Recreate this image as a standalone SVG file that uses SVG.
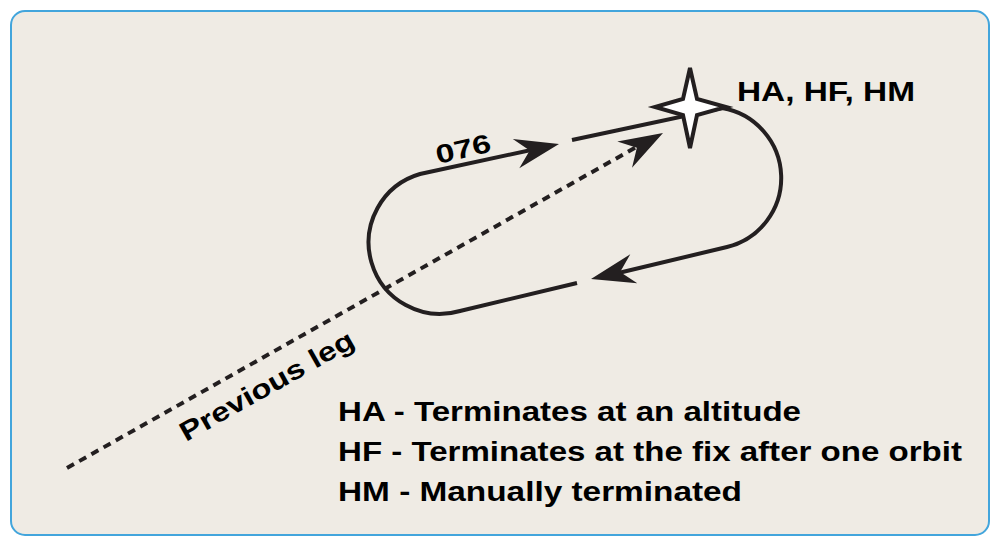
<svg xmlns="http://www.w3.org/2000/svg" width="1000" height="546" viewBox="0 0 1000 546">
<style>
.t{font-family:"Liberation Sans",Arial,sans-serif;font-weight:bold;fill:#000}
.ln{fill:none;stroke:#231f20;stroke-width:4}
.ah{fill:#231f20}
</style>
<defs>
<path id="head" d="M0,0 L-44,-15 L-30,0 L-44,15 Z"/>
</defs>
<rect x="11" y="11" width="978" height="524" rx="14" fill="#efebe4" stroke="#42a5dc" stroke-width="2"/>
<g id="connectors">
<path class="ln" d="M572,140 L722,108 A71,71 0 0 1 727,247 L610,275"/>
<path class="ln" d="M577,283 L460,311 A71,71 0 0 1 420,174 L545,147"/>
<line class="ln" x1="67" y1="468" x2="640" y2="145" stroke-dasharray="8,6"/>
<use href="#head" class="ah" transform="translate(559,144) rotate(-12.5)"/>
<use href="#head" class="ah" transform="translate(663,133) rotate(-29.4)"/>
<use href="#head" class="ah" transform="translate(591,279) rotate(166.5)"/>
</g>
<g id="fix">
<path d="M690,68 L697,99 L726,107 L697,115 L690,148 L683,115 L655,107 L683,99 Z" fill="#fff" stroke="#231f20" stroke-width="4" stroke-linejoin="miter"/>
</g>
<text class="t" x="737" y="101" font-size="28" textLength="178" lengthAdjust="spacingAndGlyphs">HA, HF, HM</text>
<text class="t" font-size="26" textLength="56" lengthAdjust="spacingAndGlyphs" transform="translate(438,164) rotate(-13)">076</text>
<text class="t" font-size="27" textLength="196" lengthAdjust="spacingAndGlyphs" transform="translate(186,442) rotate(-29.5)">Previous leg</text>
<g id="legend" class="t" font-size="28">
<text x="338" y="421" textLength="463" lengthAdjust="spacingAndGlyphs">HA - Terminates at an altitude</text>
<text x="338" y="461" textLength="624" lengthAdjust="spacingAndGlyphs">HF - Terminates at the fix after one orbit</text>
<text x="338" y="501" textLength="404" lengthAdjust="spacingAndGlyphs">HM - Manually terminated</text>
</g>
</svg>
